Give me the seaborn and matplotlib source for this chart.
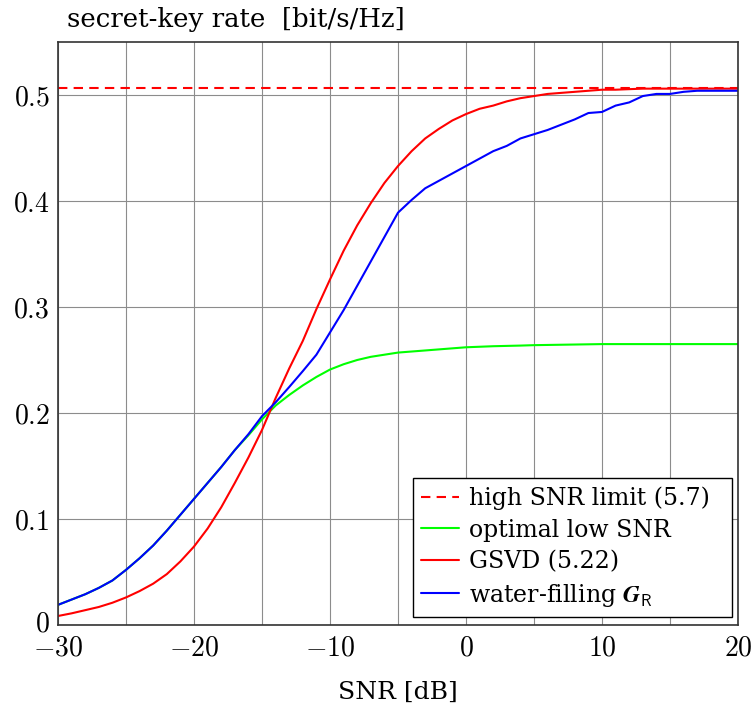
import numpy as np
import pandas as pd
import matplotlib
matplotlib.use("Agg")
import matplotlib.pyplot as plt
import matplotlib.transforms as mtransforms
from matplotlib.ticker import MultipleLocator, FixedLocator
import seaborn as sns

snr_db = list(range(-30, 21))

water_filling = [0.019, 0.024, 0.029, 0.035, 0.042, 0.052, 0.063, 0.075, 0.089, 0.104,
                 0.119, 0.134, 0.149, 0.165, 0.180, 0.197, 0.210, 0.2245, 0.2395, 0.255,
                 0.276, 0.297, 0.320, 0.343, 0.366, 0.389, 0.401, 0.412, 0.419, 0.426,
                 0.433, 0.440, 0.447, 0.452, 0.459, 0.463, 0.467, 0.472, 0.477, 0.483,
                 0.484, 0.490, 0.493, 0.499, 0.501, 0.501, 0.503, 0.504, 0.504, 0.504, 0.504]

gsvd = [0.0085, 0.011, 0.014, 0.017, 0.021, 0.026, 0.032, 0.039, 0.048, 0.060,
        0.074, 0.091, 0.111, 0.134, 0.158, 0.184, 0.214, 0.242, 0.268, 0.298,
        0.326, 0.353, 0.377, 0.398, 0.417, 0.433, 0.447, 0.459, 0.468, 0.476,
        0.482, 0.487, 0.490, 0.494, 0.497, 0.499, 0.501, 0.502, 0.503, 0.504,
        0.505, 0.505, 0.5055, 0.506, 0.506, 0.506, 0.506, 0.506, 0.506, 0.506, 0.506]

optimal_low = [0.019, 0.024, 0.029, 0.035, 0.042, 0.052, 0.063, 0.075, 0.089, 0.104,
               0.119, 0.134, 0.149, 0.165, 0.179, 0.194, 0.207, 0.217, 0.226, 0.234,
               0.241, 0.246, 0.250, 0.253, 0.255, 0.257, 0.258, 0.259, 0.260, 0.261,
               0.262, 0.2625, 0.263, 0.2633, 0.2636, 0.264, 0.2642, 0.2644, 0.2646, 0.2648,
               0.265, 0.265, 0.265, 0.265, 0.265, 0.265, 0.265, 0.265, 0.265, 0.265, 0.265]

limit_x = [-30, 20]
limit_y = [0.507, 0.507]

x_ticks = [-30, -20, -10, 0, 10, 20]
x_tick_labels = ["$-30$", "$-20$", "$-10$", "$0$", "$10$", "$20$"]
y_ticks = [0, 0.1, 0.2, 0.3, 0.4, 0.5]
y_tick_labels = ["$0$", "$0.1$", "$0.2$", "$0.3$", "$0.4$", "$0.5$"]

labels = ["high SNR limit (5.7)", "optimal low SNR", "GSVD (5.22)",
          r"water-filling $\boldsymbol{G}_{\mathsf{R}}$"]

sns.set_style("white")
plt.rcParams["font.family"] = ["DejaVu Serif"]
plt.rcParams["mathtext.fontset"] = "cm"
plt.rcParams["text.color"] = "black"
plt.rcParams["axes.labelcolor"] = "black"

fig = plt.figure(figsize=(7.55, 7.2), dpi=100)
ax = fig.add_axes([58 / 755, 1 - 625 / 720, 680 / 755, 583 / 720])

lw = 1.5
sns.lineplot(x=limit_x, y=limit_y, ax=ax, color="#ff0000", lw=lw, label=labels[0],
             linestyle=(0, (4.5, 3)))
sns.lineplot(x=snr_db, y=optimal_low, ax=ax, color="#00ff00", lw=lw, label=labels[1])
sns.lineplot(x=snr_db, y=gsvd, ax=ax, color="#ff0000", lw=lw, label=labels[2])
sns.lineplot(x=snr_db, y=water_filling, ax=ax, color="#0000ff", lw=lw, label=labels[3])

ax.set_xlim(-30, 20)
ax.set_ylim(0, 0.55)
ax.xaxis.set_major_locator(FixedLocator(x_ticks))
ax.set_xticklabels(x_tick_labels)
ax.xaxis.set_minor_locator(MultipleLocator(5))
ax.yaxis.set_major_locator(FixedLocator(y_ticks))
ax.set_yticklabels(y_tick_labels)
ax.tick_params(axis="both", which="both", length=0, labelsize=20, colors="black")
ax.tick_params(axis="x", pad=7)
ax.tick_params(axis="y", pad=6)
zero_lab = ax.get_yticklabels()[0]
zero_lab.set_transform(zero_lab.get_transform() +
                       mtransforms.ScaledTranslation(0, 3 / 72, fig.dpi_scale_trans))
ax.grid(True, which="both", color="#8c8c8c", lw=0.8)
ax.set_axisbelow(True)
for s in ax.spines.values():
    s.set_color("#333333")
    s.set_linewidth(1.2)

ax.set_xlabel("SNR [dB]", fontsize=18, labelpad=14)
ax.set_ylabel("")
fig.text(67 / 755, 1 - 20 / 720, "secret-key rate  [bit/s/Hz]", fontsize=18.7,
         ha="left", va="center", color="black")

leg = ax.legend(loc="lower left", bbox_to_anchor=(0.522, 0.0137, 0.469, 0.2),
                mode="expand", borderaxespad=0,
                fontsize=17, frameon=True, fancybox=False, handlelength=1.6,
                handletextpad=0.42, labelspacing=0.36, borderpad=0.35)
leg.get_frame().set_edgecolor("black")
leg.get_frame().set_linewidth(1.0)
leg.get_frame().set_alpha(1)
for t in leg.get_texts():
    t.set_color("black")

fig.savefig("out.png", dpi=100)
